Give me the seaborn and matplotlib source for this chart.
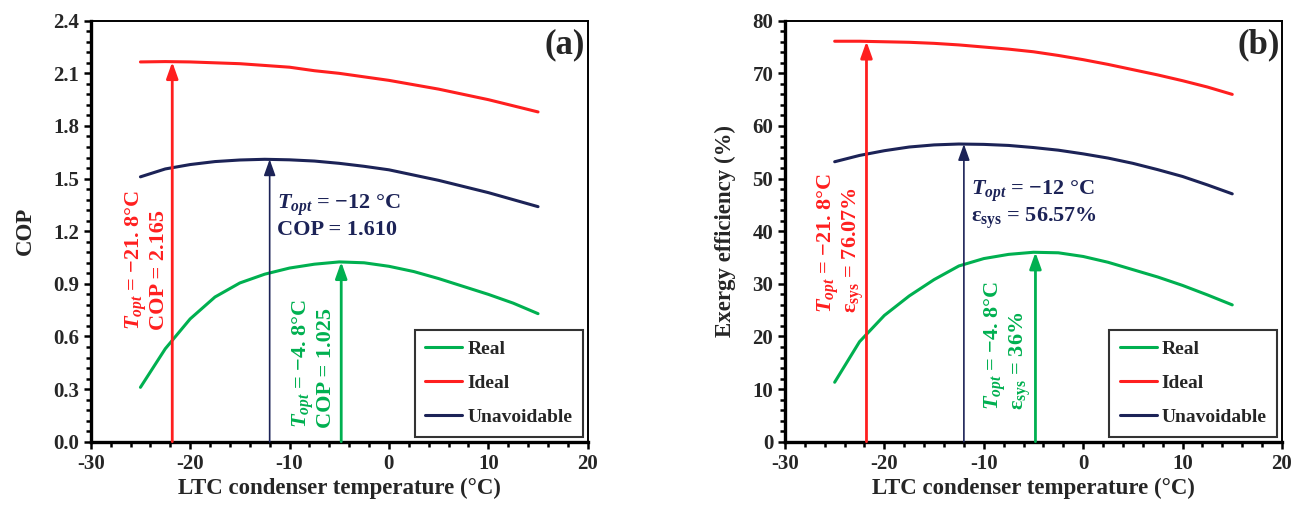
import numpy as np
import pandas as pd
import matplotlib
matplotlib.use("Agg")
import matplotlib.pyplot as plt
from matplotlib.ticker import MultipleLocator, AutoMinorLocator
import seaborn as sns

# LTC condenser temperature (C)
temp = [-25, -22.5, -20, -17.5, -15, -12.5, -10, -7.5, -5, -2.5, 0, 2.5, 5, 7.5, 10, 12.5, 15]

# (a) COP
cop_real = [0.31, 0.53, 0.70, 0.825, 0.905, 0.955, 0.99, 1.012, 1.025, 1.02, 1.0, 0.97, 0.93, 0.885, 0.84, 0.79, 0.73]
cop_ideal = [2.165, 2.167, 2.165, 2.16, 2.155, 2.145, 2.135, 2.115, 2.10, 2.08, 2.06, 2.035, 2.01, 1.98, 1.95, 1.915, 1.88]
cop_unav = [1.51, 1.555, 1.58, 1.597, 1.606, 1.61, 1.607, 1.60, 1.587, 1.57, 1.55, 1.52, 1.49, 1.455, 1.42, 1.38, 1.34]

# (b) exergy efficiency (%)
ex_real = [11.3, 19.0, 24.0, 27.7, 30.8, 33.4, 34.8, 35.6, 36.0, 35.9, 35.2, 34.1, 32.7, 31.3, 29.7, 27.9, 26.0]
ex_ideal = [76.1, 76.1, 76.0, 75.9, 75.7, 75.4, 75.0, 74.6, 74.1, 73.4, 72.6, 71.7, 70.7, 69.7, 68.6, 67.4, 66.0]
ex_unav = [53.2, 54.4, 55.3, 56.0, 56.4, 56.57, 56.5, 56.3, 55.9, 55.4, 54.7, 53.9, 52.9, 51.7, 50.4, 48.8, 47.1]

# optimum points
t_opt = {"Real": -4.8, "Ideal": -21.8, "Unavoidable": -12}
cop_opt = {"Real": 1.025, "Ideal": 2.165, "Unavoidable": 1.610}
ex_opt = {"Real": 36.0, "Ideal": 76.07, "Unavoidable": 56.57}

colors = {"Real": "#00B050", "Ideal": "#FF1F1F", "Unavoidable": "#1C2357"}

sns.set_style("ticks")
plt.rcParams["font.family"] = ["Liberation Serif", "DejaVu Serif"]
plt.rcParams["font.weight"] = "bold"
plt.rcParams["axes.labelweight"] = "bold"
plt.rcParams["axes.unicode_minus"] = False
plt.rcParams["mathtext.fontset"] = "custom"
plt.rcParams["mathtext.rm"] = "Liberation Serif:bold"
plt.rcParams["mathtext.it"] = "Liberation Serif:italic:bold"
plt.rcParams["mathtext.bf"] = "Liberation Serif:bold"

fig = plt.figure(figsize=(13.02, 5.09), dpi=100)
ax1 = fig.add_axes([0.0697, 0.1322, 0.3817, 0.8271])
ax2 = fig.add_axes([0.6029, 0.1322, 0.3817, 0.8271])


def draw(ax, series, opt, ymax, ystep, ylabel, tag):
    for name, vals in series.items():
        df = pd.DataFrame({"t": temp, "v": vals})
        sns.lineplot(data=df, x="t", y="v", ax=ax, color=colors[name], lw=2.2, label=name)
    for name in ["Ideal", "Unavoidable", "Real"]:
        lw = 1.2 if name == "Unavoidable" else 2.0
        ax.annotate("", xy=(t_opt[name], opt[name]), xytext=(t_opt[name], 0),
                    arrowprops=dict(arrowstyle="-|>,head_length=0.7,head_width=0.25",
                                    color=colors[name], lw=lw, shrinkA=0, shrinkB=0,
                                    mutation_scale=14))
    ax.set_xlim(-30, 20)
    ax.set_ylim(0, ymax)
    ax.xaxis.set_major_locator(MultipleLocator(10))
    ax.xaxis.set_minor_locator(AutoMinorLocator(5))
    ax.yaxis.set_major_locator(MultipleLocator(ystep))
    ax.yaxis.set_minor_locator(AutoMinorLocator(5))
    ax.tick_params(which="both", direction="out", width=1.8, labelsize=15, color="black")
    ax.tick_params(which="major", length=5)
    ax.tick_params(which="minor", length=3.5)
    for s in ["left", "bottom"]:
        ax.spines[s].set_linewidth(2.4)
    for s in ["top", "right"]:
        ax.spines[s].set_linewidth(1.4)
    for s in ax.spines.values():
        s.set_color("black")
    ax.set_xlabel("LTC condenser temperature (°C)", fontsize=16.5, labelpad=3)
    ax.set_ylabel(ylabel, fontsize=16.5, labelpad=12)
    ax.text(0.995, 0.942, tag, transform=ax.transAxes, ha="right", va="center",
            fontsize=25, fontweight="bold")
    leg = ax.legend(loc="lower right", bbox_to_anchor=(1, 0), borderaxespad=0.25,
                    fontsize=14, frameon=True, fancybox=False, edgecolor="black",
                    handlelength=1.9, handletextpad=0.25, labelspacing=0.85,
                    borderpad=0.55)
    leg.get_frame().set_linewidth(1.5)
    for t in leg.get_texts():
        t.set_fontweight("bold")


draw(ax1, {"Real": cop_real, "Ideal": cop_ideal, "Unavoidable": cop_unav},
     cop_opt, 2.4, 0.3, "COP", "(a)")
ax1.yaxis.set_major_formatter(matplotlib.ticker.FormatStrFormatter("%.1f"))
draw(ax2, {"Real": ex_real, "Ideal": ex_ideal, "Unavoidable": ex_unav},
     ex_opt, 80, 10, "Exergy efficiency (%)", "(b)")

fs = 16
# panel (a) annotations
ax1.text(-24.4, 0.637, "$T_{opt}$ = \u221221. 8°C\nCOP = 2.165", rotation=90,
         ha="center", va="bottom", multialignment="left", color=colors["Ideal"],
         fontsize=fs, linespacing=1.0)
ax1.text(-11.3, 1.286, "$T_{opt}$ = \u221212 °C\nCOP = 1.610", ha="left", va="center",
         color=colors["Unavoidable"], fontsize=fs, linespacing=1.1)
ax1.text(-7.6, 0.078, "$T_{opt}$ = \u22124. 8°C\nCOP = 1.025", rotation=90,
         ha="center", va="bottom", multialignment="left", color=colors["Real"],
         fontsize=fs, linespacing=1.0)

# panel (b) annotations
ax2.text(-24.4, 24.5, "$T_{opt}$ = \u221221. 8°C\n$\\mathrm{\\varepsilon_{sys}}$ = 76.07%",
         rotation=90, ha="center", va="bottom", multialignment="left",
         color=colors["Ideal"], fontsize=fs, linespacing=1.0)
ax2.text(-11.3, 45.0, "$T_{opt}$ = \u221212 °C\n$\\mathrm{\\varepsilon_{sys}}$ = 56.57%",
         ha="left", va="center", color=colors["Unavoidable"], fontsize=fs, linespacing=1.1)
ax2.text(-7.6, 6.0, "$T_{opt}$ = \u22124. 8°C\n$\\mathrm{\\varepsilon_{sys}}$ = 36%",
         rotation=90, ha="center", va="bottom", multialignment="left",
         color=colors["Real"], fontsize=fs, linespacing=1.0)

fig.savefig("out.png", dpi=100)
